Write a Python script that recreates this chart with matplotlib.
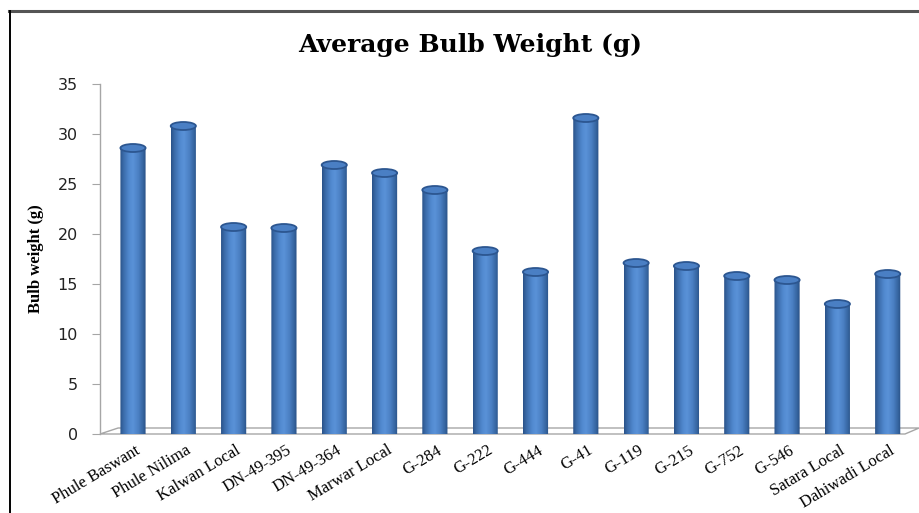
import numpy as np
import matplotlib
matplotlib.use("Agg")
import matplotlib.pyplot as plt
from matplotlib.patches import Ellipse, PathPatch, Polygon
from matplotlib.path import Path
from matplotlib.colors import LinearSegmentedColormap

varieties = ["Phule Baswant", "Phule Nilima", "Kalwan Local", "DN-49-395", "DN-49-364",
             "Marwar Local", "G-284", "G-222", "G-444", "G-41", "G-119", "G-215",
             "G-752", "G-546", "Satara Local", "Dahiwadi Local"]
bulb_weight = [28.6, 30.8, 20.7, 20.6, 26.9, 26.1, 24.4, 18.3, 16.2, 31.6,
               17.1, 16.8, 15.8, 15.4, 13.0, 16.0]
y_ticks = [0, 5, 10, 15, 20, 25, 30, 35]

W, H = 919, 513
fig = plt.figure(figsize=(W / 100, H / 100), dpi=100)
fig.patch.set_facecolor("white")

# outer frame lines
fig.add_artist(plt.Line2D([9 / W, 1.0], [1 - 11 / H, 1 - 11 / H], color="#555555", lw=2.2))
fig.add_artist(plt.Line2D([9.5 / W, 9.5 / W], [0, 1 - 11 / H], color="black", lw=1.4))

ax = fig.add_axes([100 / W, 79 / H, 805 / W, 350 / H])
n = len(varieties)
x = np.arange(n)

bar_w = 0.5
bars = ax.bar(x, bulb_weight, width=bar_w, facecolor="none", edgecolor="none", zorder=3)

# cylinder shading across the bar width
cyl = LinearSegmentedColormap.from_list(
    "cyl", [(0.0, "#2a5289"), (0.12, "#3a6aa8"), (0.35, "#5189cf"), (0.5, "#5a92d8"),
            (0.72, "#4a7fc2"), (0.9, "#35649f"), (1.0, "#2a5186")])
grad = np.linspace(0, 1, 64).reshape(1, -1)
eh = 0.8  # ellipse height in data units

for b in bars:
    x0, w, v = b.get_x(), b.get_width(), b.get_height()
    xc = x0 + w / 2
    t = np.linspace(np.pi, 2 * np.pi, 40)
    arc = np.column_stack([xc + w / 2 * np.cos(t), eh / 2 * np.sin(t)])
    verts = np.vstack([[[x0, v]], arc, [[x0 + w, v]], [[x0, v]]])
    codes = [Path.MOVETO] + [Path.LINETO] * (len(verts) - 2) + [Path.CLOSEPOLY]
    body = PathPatch(Path(verts, codes), facecolor="none", edgecolor="none", transform=ax.transData)
    ax.add_patch(body)
    im = ax.imshow(grad, cmap=cyl, aspect="auto", extent=[x0, x0 + w, -eh / 2, v],
                   zorder=3, interpolation="bilinear")
    im.set_clip_path(body)
    ax.add_patch(Ellipse((xc, v), w, eh, facecolor="#4a7fc4", edgecolor="#2c5690",
                         lw=1.3, zorder=4))

ax.set_xlim(-0.656, n - 0.656)
ax.set_ylim(0, 35)

# floor of the plot area
xl, xr = ax.get_xlim()
floor = Polygon([(xl, 0), (xr, 0), (xr + 0.28, 0.6), (xl + 0.36, 0.6)], closed=True,
                facecolor="none", edgecolor="#a6a6a6", lw=1.0, clip_on=False, zorder=2)
ax.add_patch(floor)

for s in ["top", "right", "bottom"]:
    ax.spines[s].set_visible(False)
ax.spines["left"].set_color("#a6a6a6")
ax.spines["left"].set_linewidth(1.0)

ax.set_yticks(y_ticks)
ax.set_yticklabels([str(v) for v in y_ticks], fontsize=11.5, color="#222222",
                   family="DejaVu Sans")
ax.tick_params(axis="y", length=6, color="#a6a6a6", pad=10)

ax.set_xticks(x)
ax.set_xticklabels(varieties, rotation=31, ha="right", rotation_mode="anchor",
                   family="Liberation Serif", fontsize=12, color="black")
ax.tick_params(axis="x", length=0, pad=6)
offset = matplotlib.transforms.ScaledTranslation(2 / 100, 0, fig.dpi_scale_trans)
for lbl in ax.get_xticklabels():
    lbl.set_transform(lbl.get_transform() + offset)

ax.set_ylabel("Bulb weight (g)", family="Liberation Serif", fontweight="bold",
              fontsize=12, labelpad=10)

fig.text(470 / W, 1 - 45 / H, "Average Bulb Weight (g)", ha="center", va="center",
         family="DejaVu Serif", fontweight="bold", fontsize=18)

fig.savefig("out.png", dpi=100)
